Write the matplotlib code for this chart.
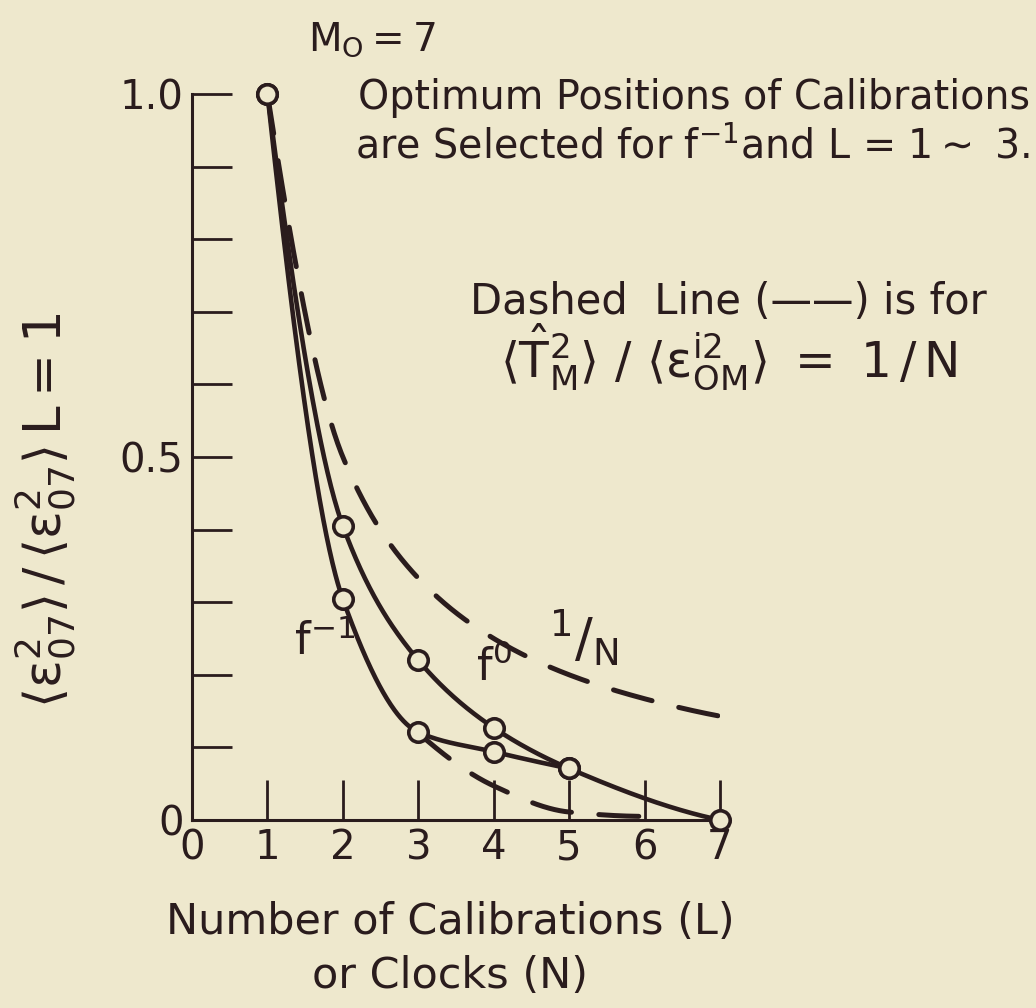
import numpy as np
import matplotlib
matplotlib.use("Agg")
import matplotlib.pyplot as plt
from matplotlib.ticker import FixedLocator, FixedFormatter

# ---------------- data ----------------
L_f0 = [1, 2, 3, 4, 5, 7]
ratio_f0 = [1.0, 0.405, 0.220, 0.127, 0.071, 0.0]

L_fm1 = [1, 2, 3, 4, 5]
ratio_fm1 = [1.0, 0.304, 0.121, 0.094, 0.071]

N_inv = [1, 2, 3, 4, 5, 6, 7]
ratio_inv = [1.0, 0.5, 0.333, 0.25, 0.2, 0.167, 0.143]

N_low = [3, 4, 5, 6]
ratio_low = [0.12, 0.047, 0.011, 0.005]

x_ticks = [0, 1, 2, 3, 4, 5, 6, 7]
x_tick_labels = ["0", "1", "2", "3", "4", "5", "6", "7"]
y_ticks = [0, 0.1, 0.2, 0.3, 0.4, 0.5, 0.6, 0.7, 0.8, 0.9, 1.0]
y_tick_labels = ["0", "", "", "", "", "0.5", "", "", "", "", "1.0"]

# ---------------- style ----------------
BG = "#EEE8CD"
INK = "#2A1C1D"
plt.rcParams["font.family"] = ["DejaVu Sans"]
plt.rcParams["mathtext.fontset"] = "dejavusans"


def pchip(x, y, xs):
    x = np.asarray(x, float)
    y = np.asarray(y, float)
    h = np.diff(x)
    delta = np.diff(y) / h
    n = len(x)
    d = np.zeros(n)
    for k in range(1, n - 1):
        if delta[k - 1] * delta[k] <= 0:
            d[k] = 0.0
        else:
            w1 = 2 * h[k] + h[k - 1]
            w2 = h[k] + 2 * h[k - 1]
            d[k] = (w1 + w2) / (w1 / delta[k - 1] + w2 / delta[k])

    def endslope(h0, h1, d0, d1):
        s = ((2 * h0 + h1) * d0 - h0 * d1) / (h0 + h1)
        if np.sign(s) != np.sign(d0):
            s = 0.0
        elif np.sign(d0) != np.sign(d1) and abs(s) > abs(3 * d0):
            s = 3 * d0
        return s

    d[0] = endslope(h[0], h[1], delta[0], delta[1])
    d[-1] = endslope(h[-1], h[-2], delta[-1], delta[-2])
    xs = np.asarray(xs, float)
    idx = np.clip(np.searchsorted(x, xs) - 1, 0, n - 2)
    t = (xs - x[idx]) / h[idx]
    h00 = 2 * t**3 - 3 * t**2 + 1
    h10 = t**3 - 2 * t**2 + t
    h01 = -2 * t**3 + 3 * t**2
    h11 = t**3 - t**2
    return (h00 * y[idx] + h10 * h[idx] * d[idx]
            + h01 * y[idx + 1] + h11 * h[idx] * d[idx + 1])


W, H = 1036, 1008
fig = plt.figure(figsize=(W / 100, H / 100), dpi=100, facecolor=BG)
ax = fig.add_axes([192 / W, (H - 820) / H, (720 - 192) / W, (820 - 94) / H])
ax.set_facecolor(BG)
ax.set_xlim(0, 7)
ax.set_ylim(0, 1.0)

for s in ["top", "right"]:
    ax.spines[s].set_visible(False)
for s in ["left", "bottom"]:
    ax.spines[s].set_color(INK)
    ax.spines[s].set_linewidth(2.2)

ax.xaxis.set_major_locator(FixedLocator(x_ticks))
ax.xaxis.set_major_formatter(FixedFormatter(x_tick_labels))
ax.yaxis.set_major_locator(FixedLocator(y_ticks))
ax.yaxis.set_major_formatter(FixedFormatter(y_tick_labels))
ax.tick_params(axis="both", direction="in", length=29, width=2.0,
               color=INK, labelcolor=INK, labelsize=29)
ax.tick_params(axis="x", pad=6)
ax.tick_params(axis="y", pad=6)
# the x tick at 0 coincides with the y axis
ax.xaxis.get_major_ticks()[0].tick1line.set_visible(False)

# solid curves
xs0 = np.linspace(L_f0[0], L_f0[-1], 400)
ax.plot(xs0, pchip(L_f0, ratio_f0, xs0), color=INK, lw=3.3,
        solid_capstyle="round", clip_on=False, zorder=3)
xs1 = np.linspace(L_fm1[0], L_fm1[-1], 400)
ax.plot(xs1, pchip(L_fm1, ratio_fm1, xs1), color=INK, lw=3.3,
        solid_capstyle="round", clip_on=False, zorder=3)

# dashed curves
xsi = np.linspace(N_inv[0], N_inv[-1], 400)
ax.plot(xsi, pchip(N_inv, ratio_inv, xsi), color=INK, lw=3.6,
        linestyle=(0, (8, 5.5)), dash_capstyle="round", zorder=2)
xsl = np.linspace(N_low[0], N_low[-1], 300)
ax.plot(xsl, pchip(N_low, ratio_low, xsl), color=INK, lw=3.6,
        linestyle=(0, (8, 5.5)), dash_capstyle="round", zorder=2)

# circle markers
ax.plot(L_f0, ratio_f0, "o", ms=14, mfc=BG, mec=INK, mew=2.6,
        clip_on=False, zorder=4)
ax.plot(L_fm1, ratio_fm1, "o", ms=14, mfc=BG, mec=INK, mew=2.6,
        clip_on=False, zorder=4)

# curve labels
ax.text(1.76, 0.245, r"$\mathregular{f^{-1}}$", fontsize=32, color=INK,
        ha="center", va="center")
ax.text(4.0, 0.21, r"$\mathregular{f^{0}}$", fontsize=32, color=INK,
        ha="center", va="center")
ax.text(5.2, 0.25, r"$\mathregular{^{1}/_{N}}$", fontsize=38, color=INK,
        ha="center", va="center")

# annotations
def ftext(x, y, s, **kw):
    fig.text(x / W, 1 - y / H, s, color=INK, **kw)

ftext(308, 40, r"$\mathregular{M_O = 7}$", fontsize=28, ha="left", va="center")
ftext(1030, 98, "Optimum Positions of Calibrations", fontsize=28.5,
      ha="right", va="center")
ftext(1030, 147, r"are Selected for $\mathregular{f^{-1}}$and L = 1$\sim$ 3.",
      fontsize=28.5, ha="right", va="center")
ftext(728, 302, "Dashed  Line (——) is for", fontsize=30, ha="center",
      va="center")
ftext(728, 357,
      r"$\mathregular{\langle\hat{T}^2_M\rangle\ /\ \langle\epsilon^{i2}_{OM}\rangle\ =\ 1\,/\,N}$",
      fontsize=35, ha="center", va="center")

# axis labels
ftext(450, 922, "Number of Calibrations (L)", fontsize=31, ha="center",
      va="center")
ftext(450, 976, "or Clocks (N)", fontsize=31, ha="center", va="center")
ftext(45, 510,
      r"$\mathregular{\langle\epsilon^2_{07}\rangle\,/\,\langle\epsilon^2_{07}\rangle\,L=1}$",
      fontsize=37, ha="center", va="center", rotation=90)

fig.savefig("out.png", dpi=100, facecolor=BG)
